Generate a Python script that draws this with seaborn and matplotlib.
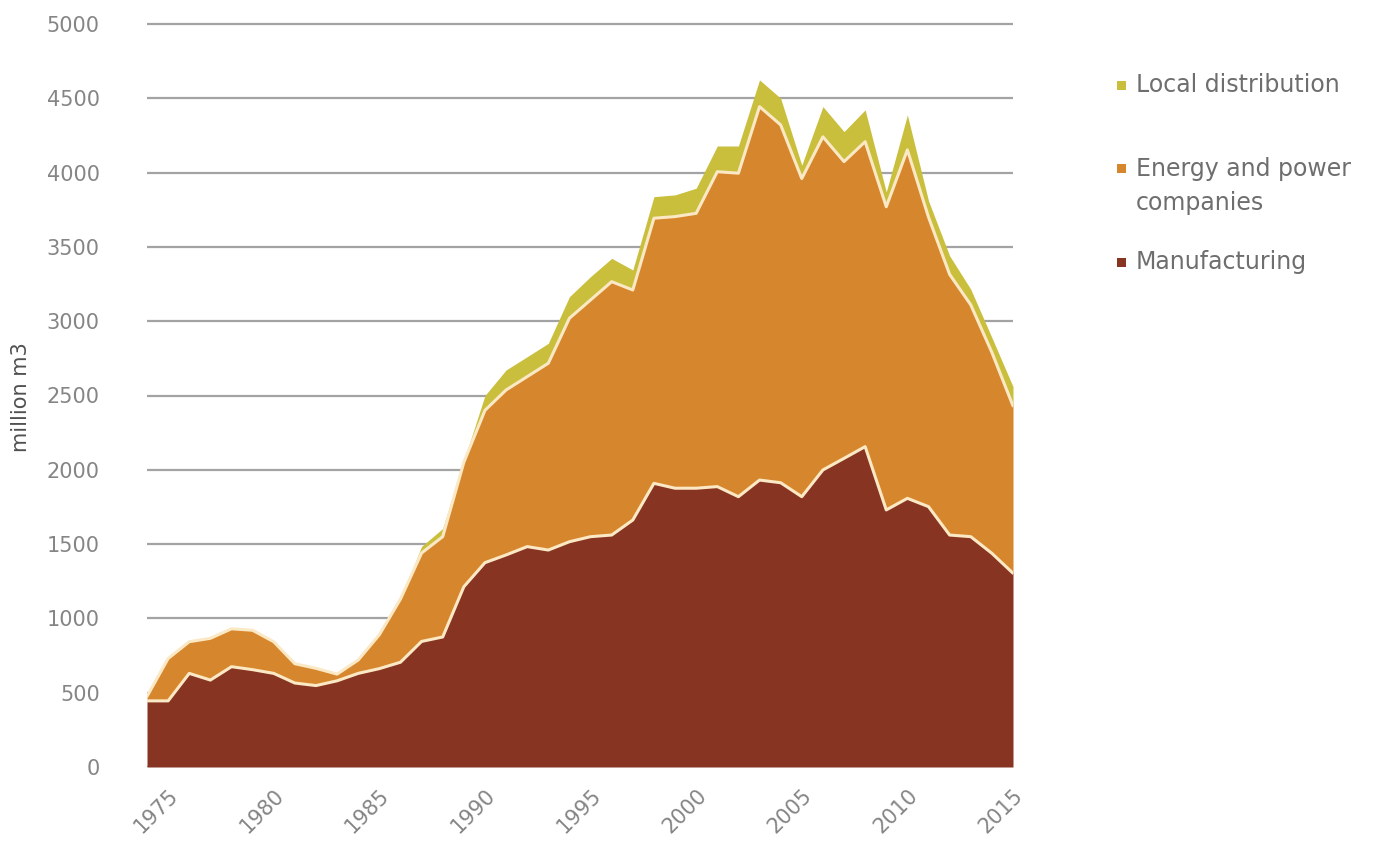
import matplotlib
matplotlib.use("Agg")
import matplotlib.pyplot as plt
from matplotlib.patches import Rectangle
import numpy as np
import pandas as pd
import seaborn as sns

# ---- data (million m3) ----
years = list(range(1974, 2016))
manufacturing = [445, 445, 630, 585, 675, 655, 630, 565, 548, 580,
                 630, 662, 705, 845, 875, 1213, 1375, 1427, 1483, 1460,
                 1516, 1550, 1561, 1662, 1909, 1876, 1876, 1887, 1819, 1931,
                 1913, 1819, 1999, 2077, 2156, 1730, 1808, 1752, 1561, 1550,
                 1438, 1304]
energy = [30, 285, 213, 281, 255, 265, 213, 130, 116, 45,
          90, 228, 425, 595, 675, 837, 1025, 1110, 1144, 1257,
          1504, 1593, 1705, 1548, 1784, 1828, 1850, 2119, 2177, 2513,
          2408, 2141, 2242, 1997, 2052, 2040, 2345, 1948, 1754, 1560,
          1352, 1126]
local = [0, 0, 0, 0, 0, 0, 0, 0, 0, 0,
         0, 0, 0, 45, 55, 10, 100, 135, 134, 134,
         145, 157, 157, 135, 145, 146, 169, 173, 183, 180,
         179, 90, 203, 202, 214, 100, 235, 110, 125, 105,
         100, 130]
y_ticks = list(range(0, 5001, 500))
x_ticks = list(range(1975, 2016, 5))

colors = ["#873422", "#d6862c", "#c9bf3d"]
cream = "#fbe8c4"

sns.set_theme(style="white")
plt.rcParams['font.family'] = ['DejaVu Sans']

df = pd.DataFrame({"Year": years, "Manufacturing": manufacturing,
                   "Energy": energy, "Local": local})
df["m_top"] = df["Manufacturing"]
df["e_top"] = df["m_top"] + df["Energy"]

W, H = 1392, 852
fig = plt.figure(figsize=(W / 100, H / 100), dpi=100)
ymax = 5025
left, right, bottom = 147, 1013, 767
top = bottom - (bottom - 24) * ymax / 5000
ax = fig.add_axes([left / W, 1 - bottom / H, (right - left) / W, (bottom - top) / H])

ax.stackplot(df["Year"], df["Manufacturing"], df["Energy"], df["Local"],
             colors=colors, linewidth=0, zorder=2)
sns.lineplot(data=df, x="Year", y="e_top", color=cream, lw=2.2, ax=ax, zorder=3)
sns.lineplot(data=df, x="Year", y="m_top", color=cream, lw=2.2, ax=ax, zorder=3)

ax.set_xlim(1974, 2015)
ax.set_ylim(0, ymax)
ax.set_yticks(y_ticks)
ax.set_yticklabels([str(v) for v in y_ticks])
ax.set_xticks(x_ticks)
ax.set_xticklabels([str(v) for v in x_ticks], rotation=45, ha="right",
                   rotation_mode="anchor")
ax.yaxis.grid(True, color="#a3a3a3", lw=1.6)
ax.xaxis.grid(False)
ax.set_axisbelow(True)
for s in ax.spines.values():
    s.set_visible(False)
ax.tick_params(axis="y", length=0, labelsize=15, labelcolor="#858585", pad=34)
ax.tick_params(axis="x", length=0, labelsize=15, labelcolor="#858585", pad=13)
ax.set_xlabel("")
ax.set_ylabel("")

fig.text(21 / W, 1 - 397 / H, "million m3", rotation=90, ha="center", va="center",
         fontsize=15, color="#505050")

# legend (manual, to match the reference layout)
leg_items = [("Local distribution", colors[2], 85),
             ("Energy and power\ncompanies", colors[1], 168),
             ("Manufacturing", colors[0], 262)]
sq = 9
for label, col, yc in leg_items:
    fig.patches.append(Rectangle((1117 / W, 1 - (yc + sq / 2) / H), sq / W, sq / H,
                                 transform=fig.transFigure, facecolor=col,
                                 edgecolor="none"))
    if "\n" in label:
        fig.text(1136 / W, 1 - (yc - 11) / H, label, ha="left", va="top",
                 fontsize=17, color="#6e6e6e", linespacing=1.55)
    else:
        fig.text(1136 / W, 1 - yc / H, label, ha="left", va="center",
                 fontsize=17, color="#6e6e6e")

fig.savefig("out.png", dpi=100)
